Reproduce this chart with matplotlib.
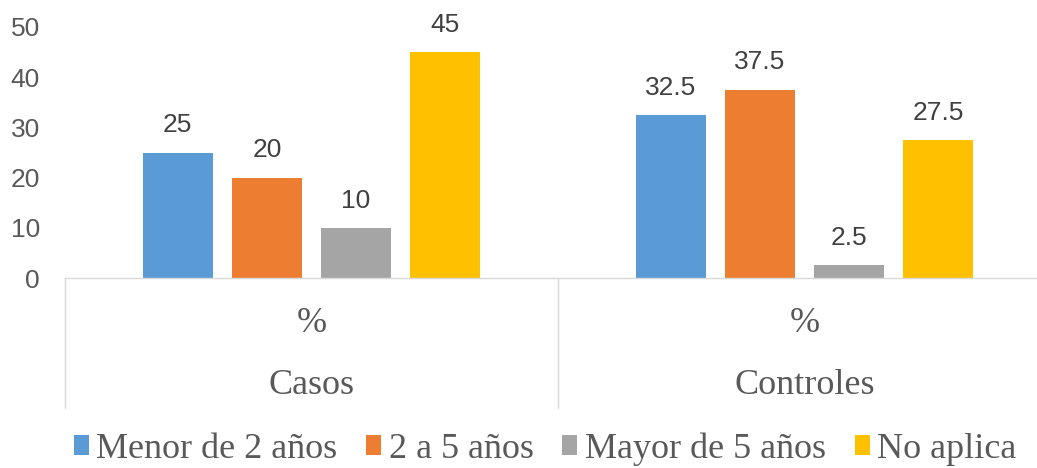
import matplotlib.pyplot as plt
from matplotlib.patches import Patch

groups = ["Casos", "Controles"]
sub_label = "%"
series = ["Menor de 2 años", "2 a 5 años", "Mayor de 5 años", "No aplica"]
values = [
    [25, 32.5],
    [20, 37.5],
    [10, 2.5],
    [45, 27.5],
]
value_labels = [
    ["25", "32.5"],
    ["20", "37.5"],
    ["10", "2.5"],
    ["45", "27.5"],
]
colors = ["#5B9BD5", "#ED7D31", "#A5A5A5", "#FFC000"]
yticks = [0, 10, 20, 30, 40, 50]

W, H = 1037, 468
fig = plt.figure(figsize=(W / 100, H / 100), dpi=100)
ax = fig.add_axes([65 / W, (H - 278) / H, 986 / W, 251 / H])

sans = "Liberation Sans"
serif = "Liberation Serif"
txt = "#595959"

width = 0.142
step = 0.181
for i, (name, vals, col) in enumerate(zip(series, values, colors)):
    xs = [g + (i - 1.5) * step for g in range(len(groups))]
    ax.bar(xs, vals, width=width, color=col, label=name, zorder=2)
    for x, v, lab in zip(xs, vals, value_labels[i]):
        ax.annotate(lab, (x, v), xytext=(0, 11), textcoords="offset points",
                    ha="center", va="bottom", fontsize=19, family=sans,
                    color="#404040")

ax.set_xlim(-0.5, len(groups) - 0.5)
ax.set_ylim(0, 50)
ax.set_yticks(yticks)
ax.set_yticklabels([str(t) for t in yticks], family=sans, fontsize=19, color=txt)
ax.tick_params(axis="y", length=0, pad=18)
ax.set_xticks([])

for s in ["top", "right", "left"]:
    ax.spines[s].set_visible(False)
ax.spines["bottom"].set_color("#d9d9d9")
ax.spines["bottom"].set_linewidth(1)

# multi-level category axis
tr = ax.get_xaxis_transform()
for xb in [-0.5 + k for k in range(len(groups) + 1)]:
    ax.plot([xb, xb], [0, -0.518], transform=tr, color="#d9d9d9", lw=1,
            clip_on=False)
for g, name in enumerate(groups):
    ax.text(g, -0.18, sub_label, transform=tr, ha="center", va="center",
            family=serif, fontsize=26, color=txt)
    ax.text(g, -0.43, name, transform=tr, ha="center", va="center",
            family=serif, fontsize=26, color=txt)

handles = [Patch(facecolor=c, edgecolor="none") for c in colors]
fig.legend(handles, series, loc="center", bbox_to_anchor=(545 / W, 1 - 449 / H),
           ncol=4, frameon=False, handlelength=0.42, handleheight=0.45,
           handletextpad=0.2, columnspacing=0.8,
           prop={"family": serif, "size": 26}, labelcolor=txt)

fig.savefig("out.png", dpi=100)
